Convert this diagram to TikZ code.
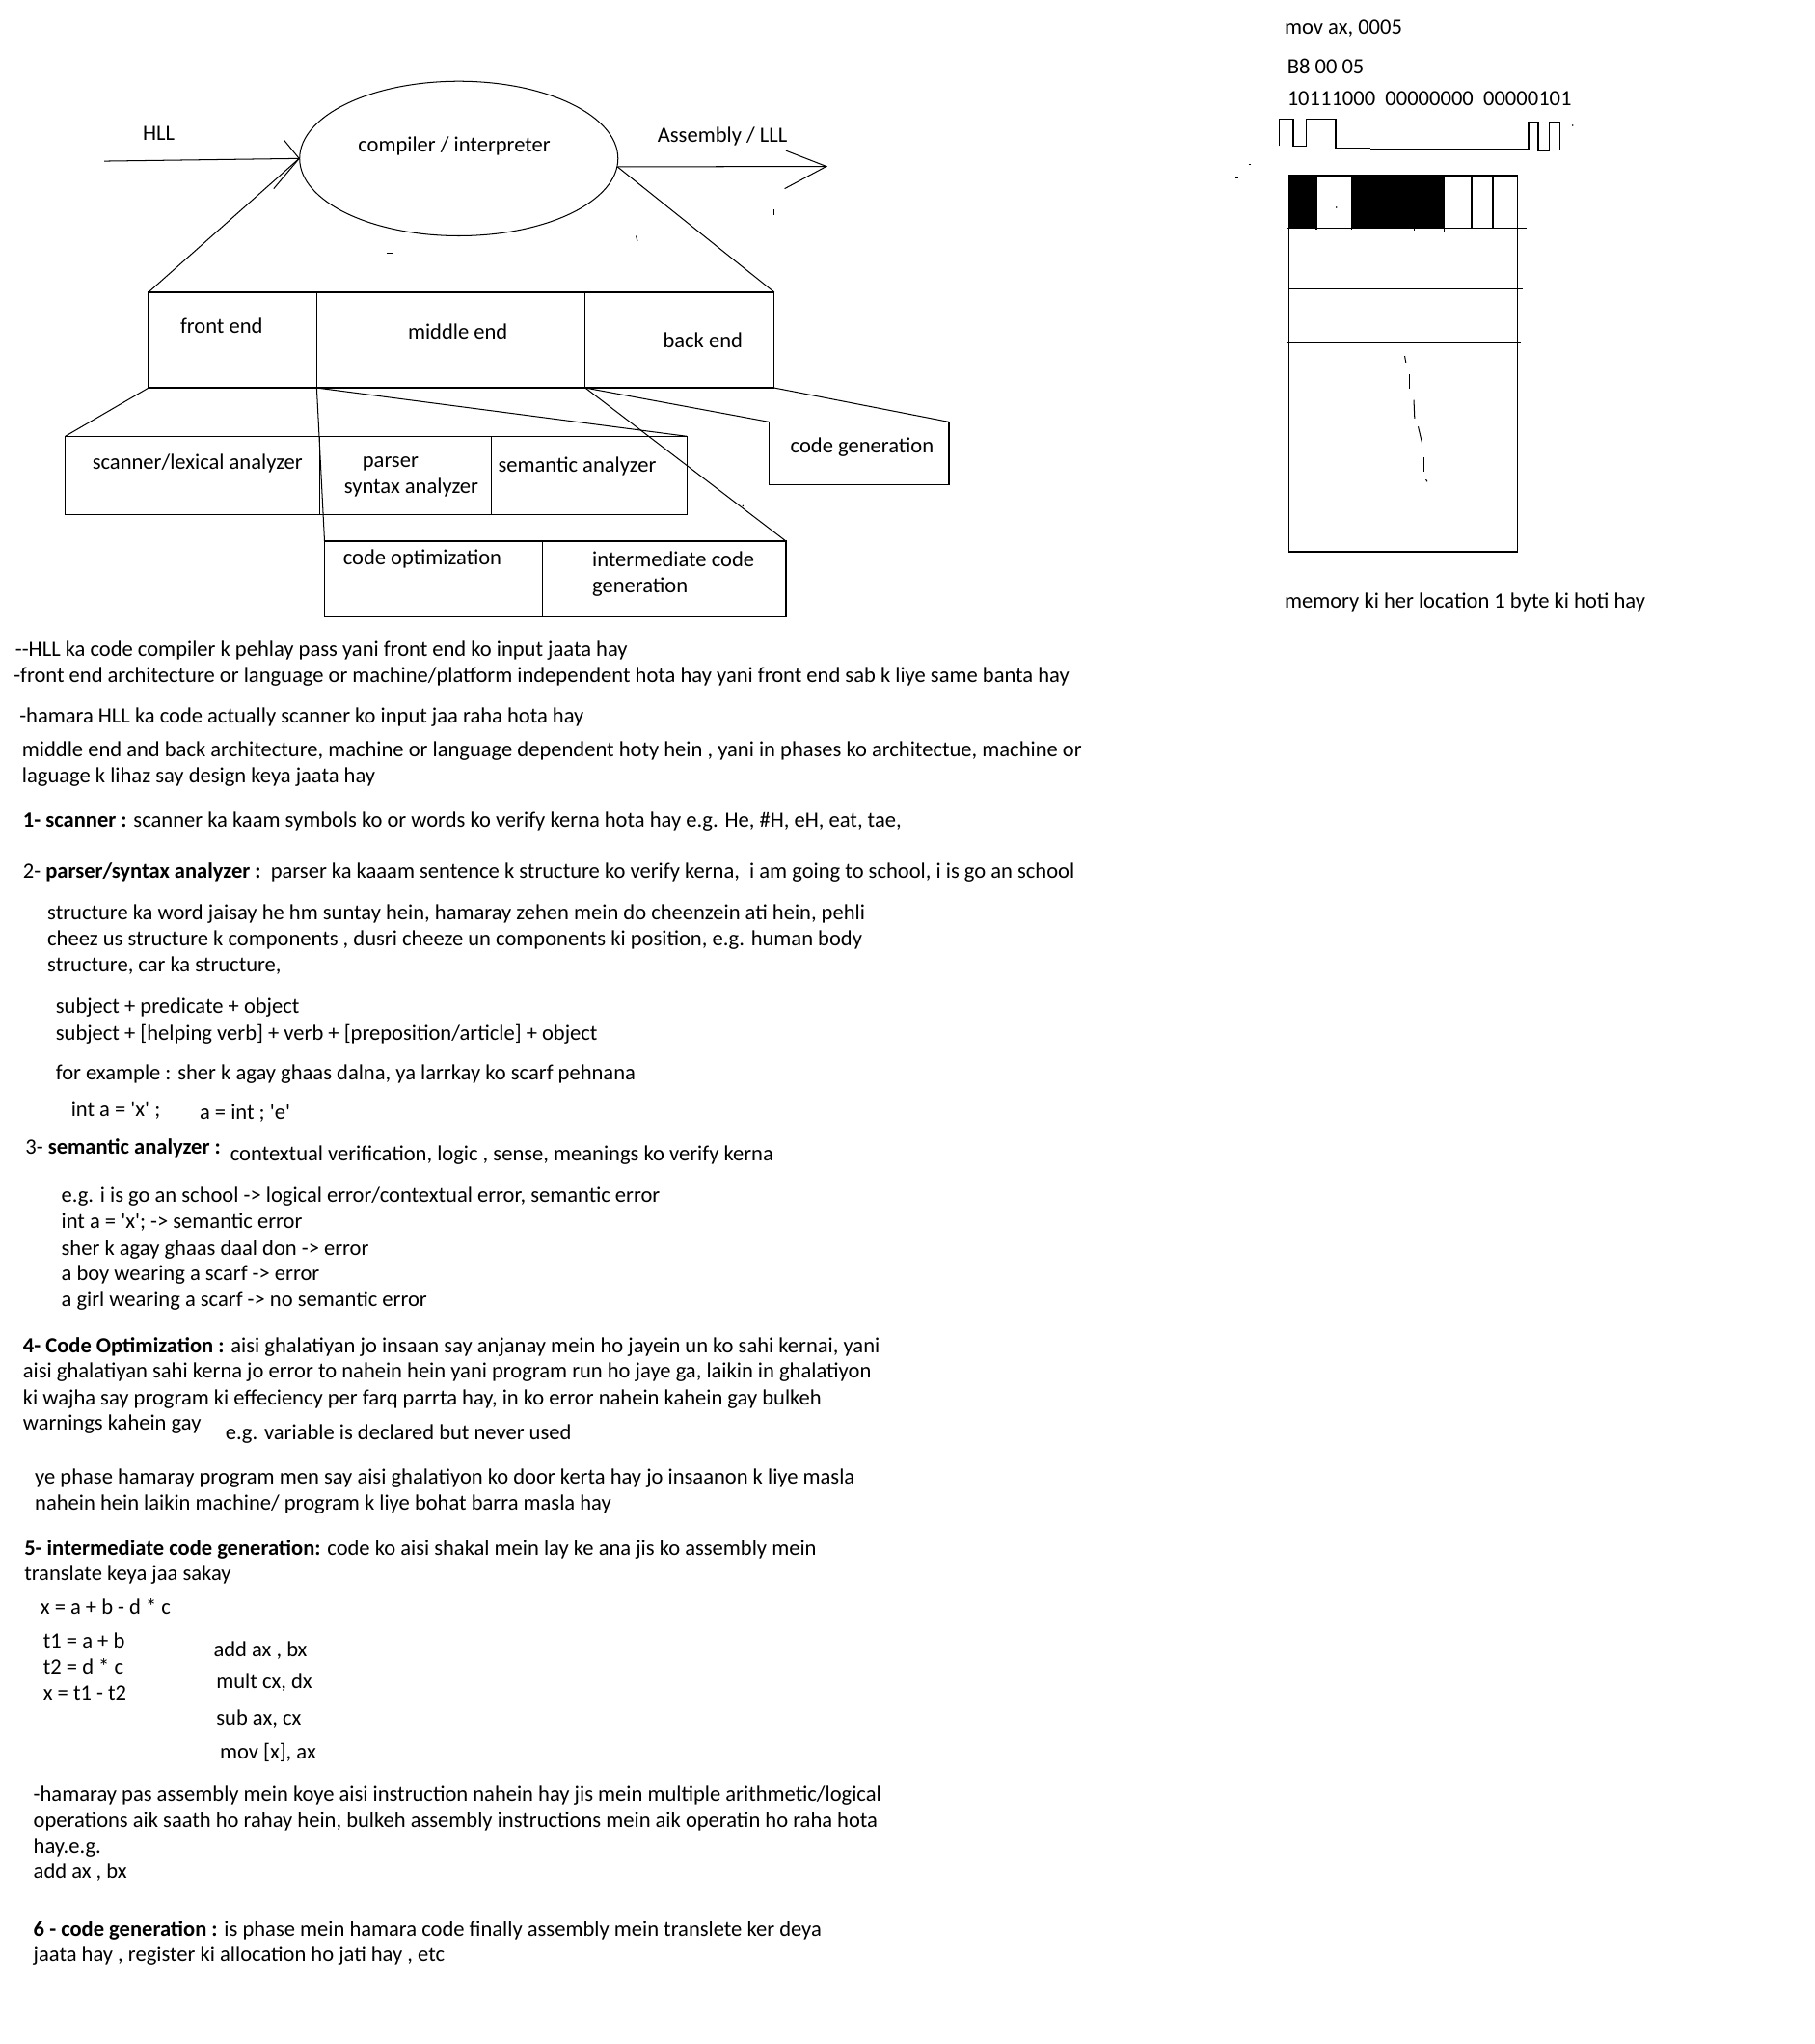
\documentclass[tikz,border=0pt]{standalone}
\usepackage{fontspec}
\setmainfont{Carlito}[Ligatures=TeXOff]
\usetikzlibrary{shapes.geometric}
\newcommand\myfs{\fontsize{16.6}{19.9}\selectfont}
\begin{document}
\begin{tikzpicture}[x=0.995pt,y=-1pt,
  lbl/.style={anchor=base west, inner sep=0, outer sep=0, font=\myfs},
  bx/.style={draw, rectangle, line width=0.9pt, inner sep=0, outer sep=0},
  conn/.style={line width=0.75pt},
  thinl/.style={line width=0.75pt},
  meml/.style={line width=1pt}]
\fill[white] (0,0) rectangle (1391.96,1560);
\useasboundingbox (0,0) rectangle (1391.96,1560);

% ---------- top diagram ----------
\node[draw, ellipse, line width=0.75pt, inner sep=0, minimum width=243, minimum height=118] (cmp) at (352,121) {};
\node[lbl] (hll) at (109.6,107) {HLL};
\node[lbl] (cmpt) at (274.7,116.2) {compiler / interpreter};
\node[lbl] (asm) at (504.5,108.5) {Assembly / LLL};

\coordinate (hllstart) at (80,123);
\coordinate (asmend) at (634,127);
\draw[conn] (hllstart) -- (cmp.west);
\draw[conn] (218,107) -- (cmp.west) -- (210,144);
\draw[conn] (cmp.-3) -- (asmend);
\draw[conn] (603,115) -- (asmend) -- (602,144);

% boxes row 1
\node[bx, minimum width=128.4, minimum height=73] (fe) at (178.5,259.5) {};
\node[bx, minimum width=205, minimum height=73] (me) at (346,259.5) {};
\node[bx, minimum width=144.3, minimum height=73] (be) at (521.5,259.5) {};
\node[lbl] (fet) at (138.4,254.7) {front end};
\node[lbl] (met) at (313,259) {middle end};
\node[lbl] (bet) at (508.7,265.3) {back end};

% boxes row 2
\node[bx, minimum width=194, minimum height=60] (sc) at (147.5,363) {};
\node[bx, minimum width=131.3, minimum height=60] (pa) at (311,363) {};
\node[bx, minimum width=149.3, minimum height=60] (sa) at (452,363) {};
\node[bx, minimum width=137.3, minimum height=48] (cg) at (659,346) {};
\node[lbl] (sct) at (70.9,358.5) {scanner/lexical analyzer};
\node[lbl] (pat1) at (278.1,356.4) {parser};
\node[lbl] (pat2) at (264.1,376.2) {syntax analyzer};
\node[lbl] (sat) at (382.2,360.4) {semantic analyzer};
\node[lbl] (cgt) at (606.5,345.5) {code generation};

% boxes row 3
\node[bx, minimum width=166.2, minimum height=58] (co) at (332.5,442) {};
\node[bx, minimum width=186, minimum height=58] (ic) at (509.5,442) {};
\node[lbl] (cot) at (263.3,430.7) {code optimization};
\node[lbl] (ict1) at (454.4,432.6) {intermediate code};
\node[lbl] (ict2) at (454.4,452.4) {generation};

% connectors
\draw[conn] (cmp.west) -- (fe.north west);
\draw[conn] (cmp.-3) -- (be.north east);
\draw[conn] (fe.south west) -- (sc.north west);
\draw[conn] (me.south west) -- (sa.north east);
\draw[conn] (me.south west) -- (co.north west);
\draw[conn] (be.south west) -- (ic.north east);
\draw[conn] (be.south west) -- (cg.north west);
\draw[conn] (be.south east) -- (cg.north east);

% stray marks
\draw[thinl] (594,160) -- (594,164);
\draw[thinl] (488,180) -- (489,184);
\draw[thinl] (297,193) -- (301,193);
\fill (570,386) circle (0.6pt);

% ---------- right part ----------
\node[lbl] (mov) at (985.6,26.5) {mov ax, 0005};
\node[lbl] (hex) at (987.6,56.1) {B8 00 05};
\node[lbl] (bin) at (987.6,80.4) {10111000\ \ 00000000\ \ 00000101};

\draw[meml] (981.6,111.5) -- (981.6,91) -- (992.1,91) -- (992.1,111.5) -- (1002.3,111.5) -- (1002.3,91) -- (1024.7,91) -- (1024.7,112.8) -- (1051.6,112.8);
\draw[meml] (1051.6,114) -- (1168.3,114) -- (1172.6,114) -- (1172.6,93) -- (1180.2,93) -- (1180.2,115.3) -- (1188.7,115.3) -- (1188.7,93) -- (1196.6,93) -- (1196.6,114);
\fill (1206.6,95.7) circle (0.6pt);
\draw[thinl] (958,125.3) -- (960,125.3);
\draw[thinl] (948,135.6) -- (950,135.6);

\fill (989,134) rectangle (1010,174);
\fill (1037,134) rectangle (1108,174);
\node[bx, line width=1pt, minimum width=174.1, minimum height=287] (mem) at (1076.5,277.5) {};
\draw[meml] (1010,134) -- (1010,175.5);
\draw[meml] (1037,134) -- (1037,175.5);
\draw[meml] (1108,134) -- (1108,177);
\draw[meml] (1129,134) -- (1129,174);
\draw[meml] (1145.4,134) -- (1145.4,174);
\draw[meml] (1085,174) -- (1085,176);
\draw[meml] (987,174) -- (1171,174);
\draw[meml] (989,220.3) -- (1168,220.3);
\draw[meml] (987,261.7) -- (1167,261.7);
\draw[meml] (989,384.5) -- (1169,384.5);
\fill (1025.3,158.3) circle (0.6pt);

\draw[thinl] (1077.7,271.7) -- (1078.6,276.7);
\draw[thinl] (1081.6,286) -- (1081.6,296.6);
\draw[thinl] (1084.7,305.3) -- (1085.3,319.4);
\draw[thinl] (1088,325.6) -- (1091,338);
\draw[thinl] (1092.7,349) -- (1092.7,359.9);
\draw[thinl] (1094,366) -- (1095,367.6);

\node[lbl] (memt) at (985.6,464.2) {memory ki her location 1 byte ki hoti hay};

% ---------- body text ----------
\node[lbl] (b1) at (11.8,501.2) {--HLL ka code compiler k pehlay pass yani front end ko input jaata hay};
\node[lbl] (b2) at (10.7,520.8) {-front end architecture or language or machine/platform independent hota hay yani front end sab k liye same banta hay};
\node[lbl] (b3) at (15,551.5) {-hamara HLL ka code actually scanner ko input jaa raha hota hay};
\node[lbl] (b4) at (17,577.5) {middle end and back architecture, machine or language dependent hoty hein , yani in phases ko architectue, machine or};
\node[lbl] (b5) at (17,597.7) {laguage k lihaz say design keya jaata hay};
\node[lbl] (b6) at (17.7,631.3) {\textbf{1- scanner :} scanner ka kaam symbols ko or words ko verify kerna hota hay e.g. He, \#H, eH, eat, tae,};
\node[lbl] (b7) at (17.7,670.5) {2- \textbf{parser/syntax analyzer :}\ \ parser ka kaaam sentence k structure ko verify kerna,\ \ i am going to school, i is go an school};
\node[lbl] (b8) at (36.4,702) {structure ka word jaisay he hm suntay hein, hamaray zehen mein do cheenzein ati hein, pehli};
\node[lbl] (b9) at (36.4,722) {cheez us structure k components , dusri cheeze un components ki position, e.g. human body};
\node[lbl] (b10) at (36.4,742) {structure, car ka structure,};
\node[lbl] (b11) at (42.8,773.7) {subject + predicate + object};
\node[lbl] (b12) at (42.8,793.7) {subject + [helping verb] + verb + [preposition/article] + object};
\node[lbl] (b13) at (42.8,824.3) {for example : sher k agay ghaas dalna, ya larrkay ko scarf pehnana};
\node[lbl] (b14a) at (54.6,852.5) {int a = 'x' ;};
\node[lbl] (b14b) at (153.2,854.2) {a = int ; 'e'};
\node[lbl] (b15a) at (19.5,880.7) {3- \textbf{semantic analyzer :}};
\node[lbl] (b15b) at (176.7,886.1) {contextual verification, logic , sense, meanings ko verify kerna};
\node[lbl] (b16) at (47.1,918) {e.g. i is go an school -> logical error/contextual error, semantic error};
\node[lbl] (b17) at (47.1,937.7) {int a = 'x'; -> semantic error};
\node[lbl] (b18) at (47.1,957.8) {sher k agay ghaas daal don -> error};
\node[lbl] (b19) at (47.1,977.4) {a boy wearing a scarf -> error};
\node[lbl] (b20) at (47.1,997.3) {a girl wearing a scarf -> no semantic error};
\node[lbl] (b21) at (17.7,1032.2) {\textbf{4- Code Optimization :} aisi ghalatiyan jo insaan say anjanay mein ho jayein un ko sahi kernai, yani};
\node[lbl] (b22) at (17.7,1051.8) {aisi ghalatiyan sahi kerna jo error to nahein hein yani program run ho jaye ga, laikin in ghalatiyon};
\node[lbl] (b23) at (17.7,1071.9) {ki wajha say program ki effeciency per farq parrta hay, in ko error nahein kahein gay bulkeh};
\node[lbl] (b24a) at (17.7,1091.1) {warnings kahein gay};
\node[lbl] (b24b) at (173,1098.4) {e.g. variable is declared but never used};
\node[lbl] (b25) at (26.8,1132.8) {ye phase hamaray program men say aisi ghalatiyon ko door kerta hay jo insaanon k liye masla};
\node[lbl] (b26) at (26.8,1152.4) {nahein hein laikin machine/ program k liye bohat barra masla hay};
\node[lbl] (b27) at (18.7,1186.8) {\textbf{5- intermediate code generation:} code ko aisi shakal mein lay ke ana jis ko assembly mein};
\node[lbl] (b28) at (18.7,1206.4) {translate keya jaa sakay};
\node[lbl] (b29) at (31,1231.7) {x = a + b - d * c};
\node[lbl] (b30) at (33.2,1258) {t1 = a + b};
\node[lbl] (b31) at (33.2,1277.6) {t2 = d * c};
\node[lbl] (b32) at (33.2,1297.2) {x = t1 - t2};
\node[lbl] (b33) at (163.9,1264.6) {add ax , bx};
\node[lbl] (b34) at (166,1288.7) {mult cx, dx};
\node[lbl] (b35) at (166,1316.9) {sub ax, cx};
\node[lbl] (b36) at (168.7,1342.2) {mov [x], ax};
\node[lbl] (b37) at (25.7,1375) {-hamaray pas assembly mein koye aisi instruction nahein hay jis mein multiple arithmetic/logical};
\node[lbl] (b38) at (25.7,1394.7) {operations aik saath ho rahay hein, bulkeh assembly instructions mein aik operatin ho raha hota};
\node[lbl] (b39) at (25.7,1414.3) {hay.e.g.};
\node[lbl] (b40) at (25.7,1434) {add ax , bx};
\node[lbl] (b41) at (25.7,1477.6) {\textbf{6 - code generation :} is phase mein hamara code finally assembly mein translete ker deya};
\node[lbl] (b42) at (25.7,1497.3) {jaata hay , register ki allocation ho jati hay , etc};
\end{tikzpicture}
\end{document}
